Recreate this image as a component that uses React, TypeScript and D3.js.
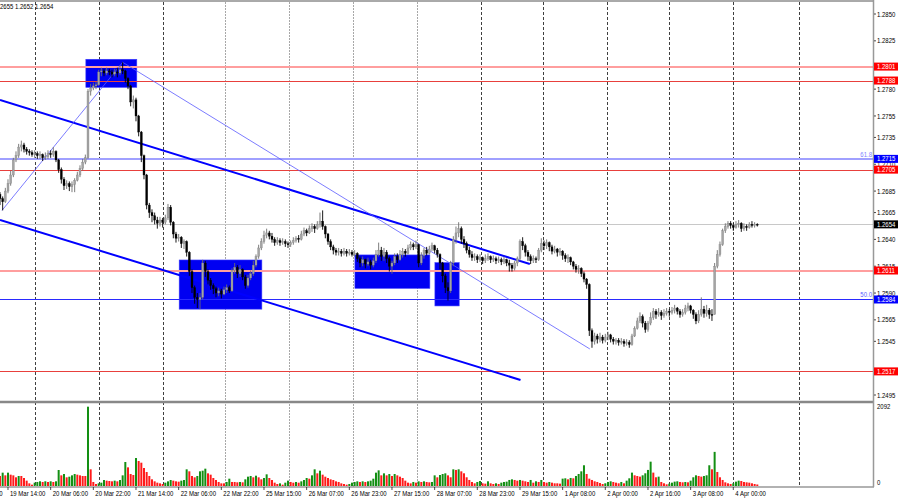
import * as d3 from "d3"
import { useEffect, useRef } from "react"

// prices in pips above 1.2500, H1 bars
const base = 1.25
const firstOpen = 182

const closes = [
  178, 175, 185, 192, 200, 214, 218, 226, 228, 224,
  222, 221, 219, 220, 218, 219, 216, 217, 220, 219,
  222, 214, 205, 196, 190, 192, 189, 191, 195, 200,
  206, 212, 216, 278, 281, 283, 284, 296, 297, 295,
  297, 296, 294, 296, 295, 298, 297, 290, 283, 268,
  270, 255, 240, 218, 200, 172, 165, 162, 158, 155,
  158, 156, 160, 170, 156, 145, 141, 142, 136, 138,
  128, 110, 95, 86, 84, 86, 118, 110, 102, 97,
  94, 90, 92, 89, 93, 95, 92, 111, 114, 108,
  112, 105, 97, 104, 108, 116, 124, 132, 138, 144,
  146, 143, 140, 137, 139, 137, 138, 136, 135, 137,
  139, 141, 140, 145, 148, 146, 150, 152, 150, 154,
  157, 152, 145, 138, 133, 130, 128, 129, 127, 129,
  127, 128, 126, 127, 122, 118, 121, 117, 119, 116,
  120, 126, 130, 124, 128, 122, 115, 118, 124, 121,
  126, 129, 127, 132, 135, 133, 135, 118, 125, 130,
  127, 131, 134, 130, 126, 118, 106, 95, 92, 118,
  140, 146, 150, 140, 136, 130, 126, 123, 124, 121,
  123, 120, 122, 124, 121, 122, 120, 121, 119, 121,
  118, 116, 113, 118, 122, 138, 134, 128, 124, 120,
  122, 121, 130, 136, 134, 137, 133, 129, 131, 128,
  129, 125, 122, 123, 119, 115, 112, 113, 108, 103,
  98, 55, 45, 50, 47, 49, 46, 49, 51, 47,
  45, 46, 44, 45, 43, 44, 42, 50, 57, 64,
  68, 62, 56, 62, 67, 73, 70, 72, 69, 71,
  73, 72, 74, 76, 73, 70, 72, 76, 78, 74,
  70, 64, 70, 75, 71, 74, 70, 70, 115, 126,
  135, 148, 152, 155, 153, 151, 154, 155, 150, 152,
  151, 154, 153, 154, 154,
]

const highs = [
  184, 180, 188, 196, 204, 216, 222, 229, 232, 230,
  226, 224, 223, 223, 222, 222, 220, 221, 223, 223,
  226, 223, 215, 207, 198, 195, 194, 194, 197, 203,
  209, 215, 219, 280, 285, 286, 287, 298, 300, 299,
  300, 299, 298, 299, 300, 302, 305, 298, 291, 284,
  274, 272, 256, 241, 219, 201, 174, 168, 165, 161,
  161, 160, 163, 173, 172, 157, 147, 145, 143, 140,
  139, 129, 112, 97, 90, 90, 121, 120, 112, 104,
  99, 96, 95, 94, 96, 98, 97, 113, 118, 116,
  116, 113, 107, 107, 111, 120, 126, 135, 141, 148,
  150, 148, 146, 142, 142, 141, 141, 140, 138, 139,
  142, 143, 144, 148, 151, 150, 153, 155, 154, 157,
  165, 167, 153, 146, 140, 135, 132, 132, 131, 132,
  131, 131, 130, 130, 128, 124, 124, 122, 123, 121,
  123, 130, 137, 133, 132, 130, 124, 120, 127, 127,
  130, 132, 131, 135, 138, 137, 139, 136, 128, 132,
  133, 134, 137, 135, 132, 127, 119, 108, 100, 120,
  143, 152, 156, 152, 143, 138, 133, 129, 127, 126,
  126, 124, 126, 127, 125, 125, 124, 124, 123, 124,
  122, 121, 118, 120, 124, 140, 142, 136, 130, 126,
  125, 124, 132, 141, 139, 140, 138, 135, 134, 132,
  132, 130, 127, 126, 124, 120, 117, 116, 114, 110,
  104, 99, 57, 53, 52, 53, 51, 52, 54, 52,
  49, 48, 48, 48, 47, 47, 46, 52, 59, 67,
  72, 70, 64, 64, 72, 76, 75, 76, 74, 75,
  76, 75, 77, 79, 77, 75, 75, 79, 81, 79,
  75, 72, 74, 86, 78, 79, 76, 75, 118, 130,
  138, 150, 155, 157, 157, 155, 157, 158, 156, 155,
  154, 156, 157, 156, 155,
]

const lows = [
  172, 167, 174, 183, 190, 198, 212, 216, 222, 221,
  219, 218, 217, 216, 215, 215, 213, 214, 215, 216,
  217, 212, 202, 192, 186, 187, 185, 184, 184, 194,
  198, 204, 210, 215, 274, 279, 280, 283, 292, 292,
  293, 293, 291, 292, 291, 293, 294, 286, 280, 264,
  262, 250, 236, 212, 196, 168, 160, 156, 154, 150,
  152, 151, 154, 158, 153, 141, 137, 138, 132, 131,
  124, 106, 90, 80, 76, 75, 84, 105, 98, 93,
  89, 86, 87, 85, 88, 90, 90, 91, 108, 104,
  105, 102, 94, 95, 102, 106, 114, 122, 130, 136,
  141, 140, 137, 134, 135, 134, 135, 133, 132, 133,
  135, 137, 137, 139, 143, 143, 145, 147, 146, 149,
  151, 149, 141, 135, 130, 126, 125, 125, 124, 125,
  124, 125, 124, 124, 119, 114, 115, 113, 115, 112,
  114, 118, 124, 120, 120, 118, 110, 108, 116, 118,
  120, 123, 124, 126, 130, 130, 131, 114, 116, 122,
  125, 126, 129, 127, 123, 112, 100, 90, 83, 90,
  115, 136, 142, 136, 132, 127, 123, 120, 120, 118,
  119, 117, 118, 120, 118, 119, 117, 118, 116, 117,
  115, 110, 110, 111, 115, 120, 130, 124, 120, 117,
  118, 118, 120, 128, 130, 131, 129, 126, 127, 124,
  125, 121, 119, 118, 116, 112, 109, 108, 105, 100,
  94, 50, 39, 42, 43, 44, 43, 44, 46, 44,
  42, 42, 41, 42, 40, 41, 39, 41, 49, 56,
  62, 58, 53, 54, 60, 65, 66, 68, 65, 67,
  69, 68, 70, 71, 70, 67, 68, 70, 73, 71,
  66, 61, 62, 68, 67, 68, 66, 64, 70, 113,
  124, 134, 146, 150, 150, 148, 150, 151, 147, 148,
  148, 150, 151, 151, 152,
]

const volumes = [
  265, 352, 281, 352, 299, 281, 229, 264, 264, 211,
  141, 70, 35, 88, 106, 124, 106, 124, 106, 124,
  106, 124, 422, 281, 316, 229, 246, 281, 316, 299,
  281, 264, 264, 2092, 440, 106, 53, 70, 88, 158,
  141, 132, 123, 141, 123, 158, 281, 633, 492, 316,
  290, 738, 659, 615, 475, 369, 264, 176, 123, 88,
  70, 53, 88, 123, 158, 141, 123, 114, 141, 158,
  440, 387, 264, 229, 264, 387, 404, 457, 334, 299,
  211, 158, 106, 70, 70, 106, 193, 106, 106, 97,
  106, 97, 176, 246, 264, 229, 272, 229, 176, 211,
  308, 211, 158, 88, 53, 70, 35, 88, 141, 106,
  88, 106, 88, 123, 158, 211, 193, 281, 440, 334,
  404, 299, 246, 211, 176, 158, 123, 106, 70, 53,
  35, 53, 88, 106, 123, 106, 123, 106, 123, 141,
  193, 352, 413, 281, 334, 281, 316, 264, 316, 281,
  246, 211, 141, 88, 70, 106, 88, 123, 106, 123,
  106, 97, 106, 281, 229, 290, 316, 334, 281, 230,
  440, 424, 440, 387, 335, 230, 159, 106, 71, 106,
  132, 71, 62, 124, 71, 53, 71, 53, 88, 106,
  115, 159, 176, 159, 141, 159, 141, 124, 106, 159,
  88, 124, 106, 159, 106, 88, 106, 88, 71, 71,
  62, 194, 203, 176, 212, 203, 264, 317, 387, 547,
  317, 194, 159, 124, 106, 79, 53, 71, 106, 124,
  106, 88, 71, 106, 71, 141, 203, 353, 282, 264,
  247, 282, 335, 424, 642, 353, 230, 247, 106, 71,
  44, 62, 88, 115, 124, 106, 97, 106, 97, 141,
  230, 282, 264, 247, 264, 282, 547, 440, 900, 370,
  230, 159, 97, 71, 53, 71, 115, 141, 132, 106,
  97, 88, 71, 53, 40,
]

const timeLabels = [
  "18 Mar 22:00", "19 Mar 14:00", "20 Mar 06:00", "20 Mar 22:00", "21 Mar 14:00",
  "22 Mar 06:00", "22 Mar 22:00", "25 Mar 15:00", "26 Mar 07:00", "26 Mar 23:00",
  "27 Mar 15:00", "28 Mar 07:00", "28 Mar 23:00", "29 Mar 15:00", "1 Apr 08:00",
  "2 Apr 00:00", "2 Apr 16:00", "3 Apr 08:00", "4 Apr 00:00",
]
const timeLabelBars = [-13, 3, 19, 35, 51, 67, 83, 99, 115, 131, 147, 163, 179, 195, 211, 227, 243, 259, 275]
const gridBars = [13, 37, 61, 84.5, 108.5, 132.5, 156.5, 180.5, 203.5, 227.5, 251, 275, 299.5]

// 1.2800 and 1.2520 sit fully under the level boxes, so they are left out
const priceTicks = [
  "1.2850", "1.2825", "1.2780", "1.2755", "1.2735", "1.2710", "1.2685",
  "1.2665", "1.2640", "1.2615", "1.2590", "1.2565", "1.2545", "1.2495",
]
const volumeMax = 2092

const levels = [1.2801, 1.2788, 1.2715, 1.2705, 1.2654, 1.2611, 1.2584, 1.2517]
const fibLabels = ["61.8", "50.0"]
const fibPrices = [1.2715, 1.2584]

const zoneFrom = [32.2, 67.2, 133.1, 163.1]
const zoneTo = [51.3, 98.2, 161.2, 172.2]
const zoneTop = [1.28078, 1.26208, 1.26255, 1.26183]
const zoneBottom = [1.27817, 1.2575, 1.25944, 1.2578]

const channelUpper: [number, number][] = [[0, 1.27699], [198.7, 1.2617]]
const channelLower: [number, number][] = [[0, 1.26581], [195.2, 1.2509]]
const swingUp: [number, number][] = [[0.75, 1.2667], [46, 1.2805]]
const swingDown: [number, number][] = [[46, 1.2805], [221.2, 1.25379]]

const quote = ["1.2655", "1.2652", "1.2654"]

export default function App() {
  const svgRef = useRef<SVGSVGElement>(null)

  useEffect(() => {
    if (!svgRef.current) return
    const svg = d3.select(svgRef.current)
    svg.selectAll("*").remove()

    const width = 900
    const height = 500
    const plotRight = 873
    const volBottom = 487

    const x = d3.scaleLinear().domain([0, closes.length - 1]).range([0, 757.3])
    const y = d3.scaleLinear().domain([1.285, 1.2495]).range([14, 395])
    const yVol = d3.scaleLinear().domain([0, volumeMax]).range([486, 406.7])
    const price = (p: number) => base + p / 10000

    const font = "'Liberation Sans', Arial, sans-serif"
    const label = (g: any, tx: number, ty: number, s: string, anchor = "start", fill = "#000") =>
      g.append("text")
        .attr("transform", `translate(${tx},${ty}) scale(0.8,1)`)
        .attr("text-anchor", anchor)
        .attr("fill", fill)
        .attr("font-size", 7.5)
        .attr("font-family", font)
        .text(s)

    svg.append("rect").attr("width", width).attr("height", height).attr("fill", "#fff")

    // grid
    const grid = svg.append("g")
    gridBars.forEach((b, k) => {
      const light = k >= 3 && k <= 6
      grid.append("line")
        .attr("x1", Math.round(x(b)) + 0.5).attr("x2", Math.round(x(b)) + 0.5)
        .attr("y1", 2).attr("y2", volBottom)
        .attr("stroke", light ? "#a8a8a8" : "#404040")
        .attr("stroke-dasharray", light ? "2,1" : "3,2")
    })

    // zones
    zoneFrom.forEach((f, k) => {
      svg.append("rect")
        .attr("x", x(f)).attr("y", y(zoneTop[k]))
        .attr("width", x(zoneTo[k]) - x(f)).attr("height", y(zoneBottom[k]) - y(zoneTop[k]))
        .attr("fill", "#0000f2").attr("stroke", "#3a3aff").attr("stroke-width", 0.6)
    })

    // horizontal levels
    const levelStroke = ["#ff9e9e", "#e8403c", "#a0a0ff", "#e8403c", "#c8c8c8", "#ff9e9e", "#2a2aff", "#e8403c"]
    const levelWidth = [2, 1, 2, 1, 1, 2, 1, 1]
    const levelBox = ["#ff0000", "#ff0000", "#0000ff", "#ff0000", "#000000", "#ff0000", "#0000ff", "#ff0000"]
    levels.forEach((v, k) => {
      const ly = levelWidth[k] === 1 ? Math.round(y(v)) + 0.5 : Math.round(y(v))
      svg.append("line")
        .attr("x1", 0).attr("x2", plotRight)
        .attr("y1", ly).attr("y2", ly)
        .attr("stroke", levelStroke[k]).attr("stroke-width", levelWidth[k])
    })
    fibLabels.forEach((t, k) => {
      label(svg, plotRight - 1, y(fibPrices[k]) - 2, t, "end", k === 0 ? "#8080ff" : "#5a5aff")
    })

    // trend lines
    const line = d3.line<[number, number]>().x((d) => x(d[0])).y((d) => y(d[1]))
    ;[channelUpper, channelLower].forEach((pts) => {
      svg.append("path").attr("d", line(pts)).attr("fill", "none").attr("stroke", "#0000ff").attr("stroke-width", 2)
    })
    ;[swingUp, swingDown].forEach((pts) => {
      svg.append("path").attr("d", line(pts)).attr("fill", "none").attr("stroke", "#5a5aff").attr("stroke-width", 0.8)
    })

    // candles
    const candles = svg.append("g")
    closes.forEach((c, i) => {
      const o = i === 0 ? firstOpen : closes[i - 1]
      const bull = c > o
      const hi = Math.max(highs[i], o, c)
      const lo = Math.min(lows[i], o, c)
      const cx = x(i)
      const col = bull ? "#7c7c7c" : "#000"
      candles.append("line")
        .attr("x1", cx).attr("x2", cx)
        .attr("y1", y(price(hi))).attr("y2", y(price(lo)))
        .attr("stroke", bull ? "#6e6e6e" : "#000").attr("stroke-width", 0.9)
      const top = y(price(Math.max(o, c)))
      const bot = y(price(Math.min(o, c)))
      candles.append("rect")
        .attr("x", cx - 1).attr("width", 2)
        .attr("y", top).attr("height", Math.max(0.8, bot - top))
        .attr("fill", bull ? "#a4a4a4" : col)
        .attr("stroke", col).attr("stroke-width", 0.3)
    })

    // volumes
    const vol = svg.append("g")
    volumes.forEach((v, i) => {
      const up = i > 0 && v > volumes[i - 1]
      vol.append("rect")
        .attr("x", x(i) - 1).attr("width", 2)
        .attr("y", yVol(v)).attr("height", yVol(0) - yVol(v))
        .attr("fill", up ? "#138f13" : "#ff1a1a")
    })

    // frames
    svg.append("line").attr("x1", 0).attr("x2", plotRight).attr("y1", 1).attr("y2", 1).attr("stroke", "#555")
    svg.append("line").attr("x1", 0).attr("x2", plotRight + 1).attr("y1", 402).attr("y2", 402).attr("stroke", "#888").attr("stroke-width", 2.5)
    svg.append("line").attr("x1", 0).attr("x2", plotRight + 1).attr("y1", volBottom).attr("y2", volBottom).attr("stroke", "#999").attr("stroke-width", 1.5)
    svg.append("line").attr("x1", plotRight + 0.5).attr("x2", plotRight + 0.5).attr("y1", 0).attr("y2", volBottom).attr("stroke", "#999").attr("stroke-width", 1.5)

    // price axis
    const axis = svg.append("g")
    priceTicks.forEach((t) => {
      const ty = y(+t)
      axis.append("line").attr("x1", plotRight + 1).attr("x2", plotRight + 3).attr("y1", ty).attr("y2", ty).attr("stroke", "#000").attr("stroke-width", 0.7)
      label(axis, plotRight + 4, ty + 2.6, t)
    })
    levels.forEach((v, k) => {
      const ty = y(v)
      axis.append("rect").attr("x", plotRight + 1).attr("y", ty - 4).attr("width", 24).attr("height", 8).attr("fill", levelBox[k])
      label(axis, plotRight + 4, ty + 2.6, v.toFixed(4), "start", "#fff")
    })

    // volume axis
    label(axis, plotRight + 4, yVol(volumeMax) + 2.6, String(volumeMax))
    label(axis, plotRight + 4, yVol(0) - 1.5, "0")

    // time axis
    timeLabels.forEach((t, k) => {
      const tx = x(timeLabelBars[k])
      axis.append("line").attr("x1", tx).attr("x2", tx).attr("y1", volBottom).attr("y2", volBottom + 3).attr("stroke", "#000").attr("stroke-width", 0.7)
      label(axis, tx + 2, 496, t)
    })

    // header quote
    label(svg, -5, 9, quote.join(" "))
  }, [])

  return (
    <svg
      ref={svgRef}
      width={900}
      height={500}
      viewBox="0 0 900 500"
      style={{ position: "absolute", left: 0, top: 0, display: "block" }}
    />
  )
}
